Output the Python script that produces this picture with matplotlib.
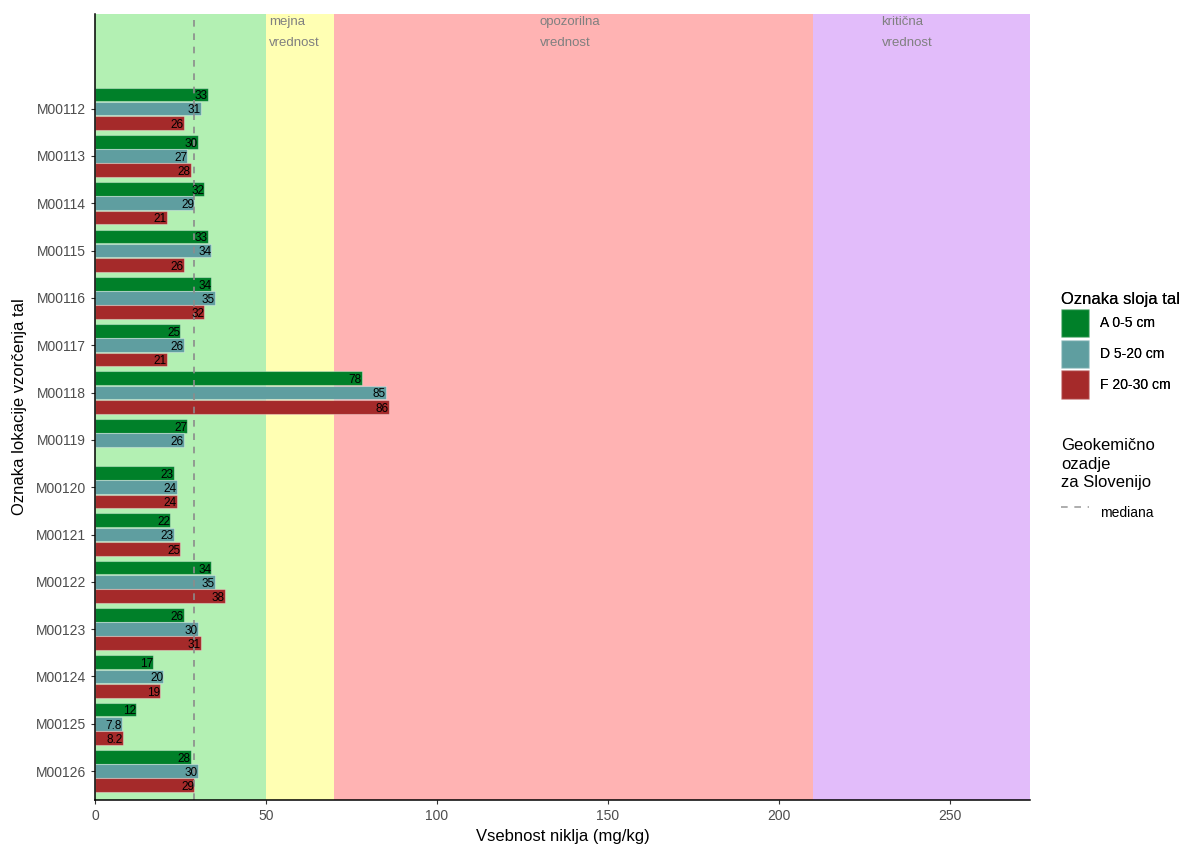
import numpy as np
import matplotlib.pyplot as plt
from matplotlib.patches import Patch
from matplotlib.lines import Line2D

plt.rcParams['font.family'] = ['Liberation Sans', 'DejaVu Sans']

# podatki
lokacije = ['M00112', 'M00113', 'M00114', 'M00115', 'M00116', 'M00117', 'M00118', 'M00119',
            'M00120', 'M00121', 'M00122', 'M00123', 'M00124', 'M00125', 'M00126']
sloj_A = [33, 30, 32, 33, 34, 25, 78, 27, 23, 22, 34, 26, 17, 12, 28]
sloj_D = [31, 27, 29, 34, 35, 26, 85, 26, 24, 23, 35, 30, 20, 7.8, 30]
sloj_F = [26, 28, 21, 26, 32, 21, 86, np.nan, 24, 25, 38, 31, 19, 8.2, 29]
sloji = ['A 0-5 cm', 'D 5-20 cm', 'F 20-30 cm']
barve = ['#008029', '#5F9EA0', '#A52A2A']
mediana = 29

meje = [0, 50, 70, 210, 273.4]
meje_barve = ['#B3F0B3', '#FFFFB3', '#FFB3B3', '#E2BCFA']
meje_napisi = ['mejna\nvrednost', 'opozorilna\nvrednost', 'kritična\nvrednost']
meje_napisi_x = [51, 130, 230]

fig = plt.figure(figsize=(11.93, 8.46), dpi=100)
ax = fig.add_axes([0.0796, 0.0544, 0.7838, 0.9291])

# ozadje z mejnimi vrednostmi
for i in range(len(meje_barve)):
    ax.axvspan(meje[i], meje[i + 1], color=meje_barve[i], lw=0, zorder=0)
for x, t in zip(meje_napisi_x, meje_napisi):
    ax.text(x, -1.95, t, ha='left', va='top', color='#808080', fontsize=9.5, linespacing=2.0)

y = np.arange(len(lokacije))
sirina = 0.29
for k, (vrednosti, barva) in enumerate(zip([sloj_A, sloj_D, sloj_F], barve)):
    yy = y + (k - 1) * 0.3
    ax.barh(yy, vrednosti, height=sirina, color=barva, edgecolor=(1, 1, 1, 0.35), lw=0.8, zorder=2)
    for yi, v in zip(yy, vrednosti):
        if np.isnan(v):
            continue
        ax.text(v, yi + 0.04, f'{v:g}', ha='right', va='center', fontsize=8.5, color='black', zorder=3)

ax.axvline(mediana, color='#8C8C8C', ls=(0, (4, 4)), lw=1.2, zorder=2.5)

ax.set_xlim(0, meje[-1])
ax.set_ylim(len(lokacije) - 1 + 0.61, -2.0)
ax.set_yticks(y)
ax.set_yticklabels(lokacije)
ax.set_xticks([0, 50, 100, 150, 200, 250])
ax.tick_params(colors='#4D4D4D', labelsize=10, length=3)
ax.tick_params(axis='both', color='#333333')
for s in ['top', 'right']:
    ax.spines[s].set_visible(False)
for s in ['left', 'bottom']:
    ax.spines[s].set_color('black')
    ax.spines[s].set_linewidth(1.1)
ax.set_xlabel('Vsebnost niklja (mg/kg)', fontsize=12, labelpad=4)
ax.set_ylabel('Oznaka lokacije vzorčenja tal', fontsize=12, labelpad=6)

# legende
h1 = [Patch(facecolor=b, edgecolor=(1, 1, 1, 0.35)) for b in barve]
leg1 = fig.legend(h1, sloji, title='Oznaka sloja tal', loc='upper left',
                  bbox_to_anchor=(0.879, 0.670), frameon=False, fontsize=10,
                  title_fontsize=12, handlelength=2.0, handleheight=2.8,
                  labelspacing=0.15, handletextpad=0.8, alignment='left')
h2 = [Line2D([], [], color='#A0A0A0', ls=(0, (4, 4)), lw=1.2)]
leg2 = fig.legend(h2, ['mediana'], title='Geokemično\nozadje\nza Slovenijo', loc='upper left',
                  bbox_to_anchor=(0.879, 0.497), frameon=False, fontsize=10,
                  title_fontsize=12, handlelength=2.0, handleheight=3.2,
                  handletextpad=0.8, alignment='left')
leg2.get_title().set_linespacing(1.3)
fig.add_artist(leg1)

fig.savefig('out.png', dpi=100)
